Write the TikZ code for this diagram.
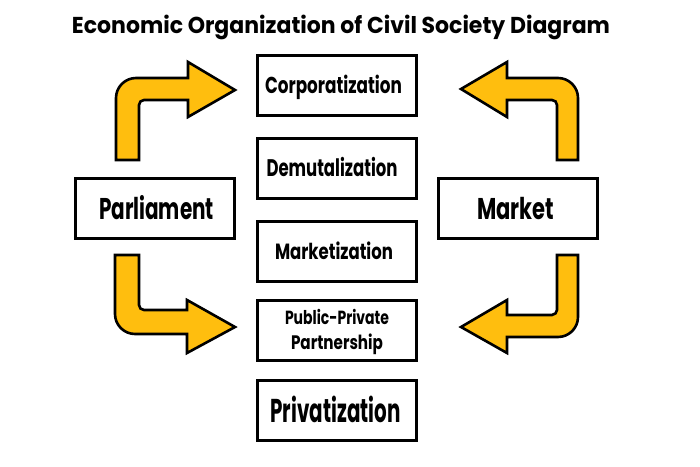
\documentclass[tikz,border=0pt]{standalone}
\usepackage{fontspec}
\setmainfont{Poppins}
\usepackage{graphicx}
\definecolor{amber}{RGB}{255,190,14}
\newcommand{\fitw}[3]{{\fontsize{#2}{#2}\selectfont\bfseries\resizebox{#1pt}{\height}{#3}}}
\tikzset{
  box/.style={draw=black, line width=3pt, fill=white, minimum width=159pt, minimum height=60pt, inner sep=0pt},
  bentarrow/.style={draw=black, line width=2.6pt, fill=amber, line join=miter},
}
\begin{document}
\begin{tikzpicture}[x=1pt,y=-1pt]
\useasboundingbox (0,0) rectangle (700,466);
% title
\node[anchor=base, inner sep=0pt] (title) at (341,33) {\fitw{538}{23}{Economic Organization of Civil Society Diagram}};
% middle column
\node[box, text height=16pt, text depth=0pt] (corp) at (337,85.5) {\kern-7pt\fitw{137}{23}{Corporatization}};
\node[box, text height=16.8pt, text depth=0pt] (demu) at (337,168.5) {\kern-10pt\fitw{131}{24}{Demutalization}};
\node[box, text height=15.4pt, text depth=0pt] (mark) at (337,251.5) {\kern-6pt\fitw{118}{22}{Marketization}};
\node[box, text height=38.3pt, text depth=0pt] (ppp) at (337,330.5) {\vbox{\baselineskip=25pt\lineskiplimit=-100pt
  \hbox to 140pt{\hss\fitw{104}{19}{Public-Private}\hss}
  \hbox to 140pt{\hss\fitw{92}{19.5}{Partnership}\hss}}};
\node[box, text height=23pt, text depth=0pt] (priv) at (337,410.5) {\kern-3pt\fitw{130}{33}{Privatization}};
% sides
\node[box, text height=21pt, text depth=0pt] (parl) at (155,208.5) {\kern3pt\fitw{115}{30}{Parliament}};
\node[box, text height=21pt, text depth=0pt] (mkt) at (518,208.5) {\kern-5pt\fitw{77}{30}{Market}};
% bent arrows
\path[bentarrow] (116,160) -- (116,98) .. controls (116,87) and (125,78) .. (136,78) -- (188,78) -- (188,62) -- (235,90) -- (188,117) -- (188,100) -- (144,100) .. controls (141.24,100) and (139,102.24) .. (139,105) -- (139,160) -- cycle;
\path[bentarrow] (115,255) -- (115,314) .. controls (115,325) and (124,334) .. (135,334) -- (187,334) -- (187,353) -- (235,327) -- (187,300) -- (187,310) -- (144,310) .. controls (141.24,310) and (139,307.76) .. (139,305) -- (139,255) -- cycle;
\path[bentarrow] (578,160) -- (578,98) .. controls (578,87) and (569,78) .. (558,78) -- (507,78) -- (507,62) -- (461,89) -- (507,117) -- (507,100) -- (552,100) .. controls (554.76,100) and (557,102.24) .. (557,105) -- (557,160) -- cycle;
\path[bentarrow] (578,255) -- (578,317) .. controls (578,328) and (569,337) .. (558,337) -- (507,337) -- (507,353) -- (461,327) -- (507,300) -- (507,315) -- (552,315) .. controls (554.76,315) and (557,312.24) .. (557,310) -- (557,255) -- cycle;
\end{tikzpicture}
\end{document}
